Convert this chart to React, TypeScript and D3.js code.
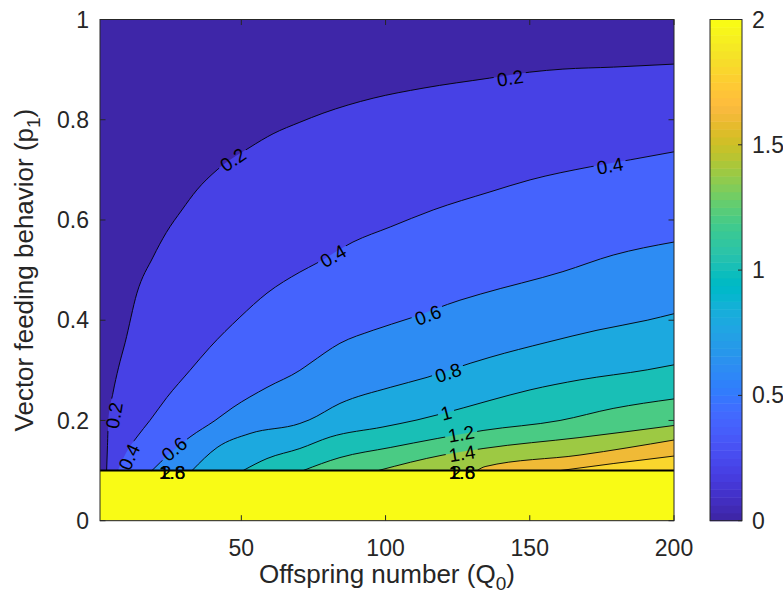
import React from "react";
import * as d3 from "d3";

const W = 783;
const H = 604;

// axis ticks
const q0Ticks = [50, 100, 150, 200];
const p1Ticks = [0, 0.2, 0.4, 0.6, 0.8, 1];
const cbTicks = [0, 0.5, 1, 1.5, 2];

// contour levels (value >= level lies below/right of the line)
const levels = [0.2, 0.4, 0.6, 0.8, 1.0, 1.2, 1.4, 1.6, 1.8];

// contour lines: [Q0, p1]
const c02 = [[3.3, 0.1], [3.6, 0.15], [3.9, 0.2], [5.5, 0.255], [7.4, 0.305], [9.7, 0.355], [13.8, 0.454], [19.4, 0.526], [24, 0.575], [29.4, 0.62], [34.6, 0.66], [41.6, 0.7], [53, 0.745], [61, 0.772], [70.3, 0.795], [78.3, 0.813], [95.7, 0.843], [113, 0.863], [136, 0.883], [150, 0.895], [161.5, 0.901], [179, 0.905], [200, 0.911]];
const c04 = [[7.2, 0.1], [10, 0.135], [13.8, 0.167], [18.3, 0.2], [24.2, 0.246], [32.2, 0.3], [39.1, 0.346], [49.5, 0.406], [58.9, 0.454], [70.3, 0.496], [76.2, 0.514], [88.7, 0.556], [101.6, 0.586], [116.5, 0.62], [136.2, 0.656], [150.1, 0.68], [170.9, 0.706], [184.8, 0.72], [200, 0.736]];
const c06 = [[19, 0.1], [25, 0.133], [32.2, 0.167], [40.9, 0.2], [47.1, 0.226], [58.9, 0.266], [70.3, 0.3], [73.8, 0.314], [84.2, 0.354], [95.7, 0.38], [108.5, 0.404], [125.8, 0.44], [132.8, 0.452], [161.5, 0.497], [178.9, 0.53], [200, 0.556]];
const c08 = [[32.9, 0.1], [41.6, 0.146], [53, 0.174], [70.3, 0.194], [73.5, 0.201], [84.2, 0.234], [101.6, 0.266], [114.4, 0.286], [129.3, 0.314], [136.2, 0.326], [156, 0.356], [173.3, 0.38], [190.7, 0.4], [200, 0.413]];
const c10 = [[50.6, 0.1], [58.9, 0.124], [70.3, 0.144], [80.8, 0.167], [99.1, 0.187], [110.9, 0.201], [126.9, 0.225], [136.2, 0.24], [150.1, 0.261], [167.4, 0.281], [190.7, 0.301], [200, 0.311]];
const c12 = [[71.4, 0.1], [84.2, 0.126], [101.6, 0.146], [117.9, 0.164], [133.8, 0.18], [160.5, 0.2], [178.9, 0.224], [200, 0.243]];
const c14 = [[97.4, 0.1], [119.9, 0.131], [133.8, 0.144], [167.4, 0.166], [200, 0.19]];
const c16 = [[131.7, 0.1], [134.5, 0.108], [167.4, 0.131], [200, 0.161]];
const c18 = [[160.5, 0.1], [178.9, 0.114], [200, 0.129]];
const contourLines = [c02, c04, c06, c08, c10, c12, c14, c16, c18];

// inline labels: [text, Q0, p1]
const labels: [string, number, number][] = [
  ["0.2", 5.9, 0.21], ["0.2", 47.1, 0.72], ["0.2", 143.2, 0.883],
  ["0.4", 11.1, 0.127], ["0.4", 81.8, 0.528], ["0.4", 177.8, 0.708],
  ["0.6", 26.7, 0.143], ["0.6", 114.7, 0.41],
  ["0.8", 121.7, 0.295],
  ["1", 121, 0.215],
  ["1.2", 126.2, 0.173],
  ["1.4", 126.5, 0.134],
];
// labels piled up on the p1 = 0.1 edge
const pileLabels = ["1.6", "1.8", "2"];
const pileQ0 = [26, 126.5];

// MATLAB parula, 64 entries
const parula = [
  [0.2422, 0.1504, 0.6603], [0.2504, 0.165, 0.7076], [0.2578, 0.1818, 0.7511], [0.2647, 0.1978, 0.7952],
  [0.2706, 0.2147, 0.8364], [0.2751, 0.2342, 0.871], [0.2783, 0.2559, 0.8991], [0.2803, 0.2782, 0.9221],
  [0.2813, 0.3006, 0.9414], [0.281, 0.3228, 0.9579], [0.2795, 0.3447, 0.9717], [0.276, 0.3667, 0.9829],
  [0.2699, 0.3892, 0.9906], [0.2602, 0.4123, 0.9952], [0.244, 0.4358, 0.9988], [0.2206, 0.4603, 0.9973],
  [0.1963, 0.4847, 0.9892], [0.1834, 0.5074, 0.9798], [0.1786, 0.5289, 0.9682], [0.1764, 0.5499, 0.952],
  [0.1687, 0.5703, 0.9359], [0.154, 0.5902, 0.9218], [0.146, 0.6091, 0.9079], [0.138, 0.6276, 0.8973],
  [0.1248, 0.6459, 0.8883], [0.1113, 0.6635, 0.8763], [0.0952, 0.6798, 0.8598], [0.0689, 0.6948, 0.8394],
  [0.0297, 0.7082, 0.8163], [0.0036, 0.7203, 0.7917], [0.0067, 0.7312, 0.766], [0.0433, 0.7411, 0.7394],
  [0.0964, 0.75, 0.712], [0.1408, 0.7584, 0.6842], [0.1717, 0.767, 0.6554], [0.1938, 0.7758, 0.6251],
  [0.2161, 0.7843, 0.5923], [0.247, 0.7918, 0.5567], [0.2906, 0.7973, 0.5188], [0.3406, 0.8008, 0.4789],
  [0.3909, 0.8029, 0.4354], [0.4456, 0.8024, 0.3909], [0.5044, 0.7993, 0.348], [0.5616, 0.7942, 0.3045],
  [0.6174, 0.7876, 0.2612], [0.672, 0.7793, 0.2227], [0.7242, 0.7698, 0.191], [0.7738, 0.7598, 0.1646],
  [0.8203, 0.7498, 0.1535], [0.8634, 0.7406, 0.1596], [0.9035, 0.733, 0.1774], [0.9393, 0.7288, 0.21],
  [0.9728, 0.7298, 0.2394], [0.9956, 0.7434, 0.2371], [0.997, 0.7659, 0.2199], [0.9952, 0.7893, 0.2028],
  [0.9892, 0.8136, 0.1885], [0.9786, 0.8386, 0.1766], [0.9676, 0.8639, 0.1643], [0.961, 0.889, 0.1537],
  [0.9597, 0.9135, 0.1423], [0.9628, 0.9373, 0.1265], [0.9691, 0.9606, 0.1064], [0.9769, 0.9839, 0.0805],
];

const rgb = (c: number[]) => d3.rgb(c[0] * 255, c[1] * 255, c[2] * 255).formatHex();
const levelColor = (v: number) => rgb(parula[Math.min(63, Math.floor((v / 2) * 64 + 1e-9))]);

const FONT = "'Liberation Sans', Arial, Helvetica, sans-serif";
const INK = "#262626";

export default function App() {
  const left = 100, right = 674, top = 19.5, bottom = 520.7;
  const x = d3.scaleLinear().domain([1, 200]).range([left, right]);
  const y = d3.scaleLinear().domain([0, 1]).range([bottom, top]);
  const cb = d3.scaleLinear().domain([0, 2]).range([bottom, top]);
  const cbX0 = 710, cbX1 = 742;

  const line = d3.line<number[]>()
    .x(d => x(d[0]))
    .y(d => y(d[1]))
    .curve(d3.curveMonotoneX);

  // angle of the contour at a label spot
  const labelAngle = (pts: number[][], q: number, p: number) => {
    let best = 0, bd = Infinity;
    for (let i = 0; i < pts.length - 1; i++) {
      const mx = (x(pts[i][0]) + x(pts[i + 1][0])) / 2;
      const my = (y(pts[i][1]) + y(pts[i + 1][1])) / 2;
      const dd = (mx - x(q)) ** 2 + (my - y(p)) ** 2;
      if (dd < bd) { bd = dd; best = i; }
    }
    const a = pts[best], b = pts[best + 1];
    let ang = Math.atan2(y(b[1]) - y(a[1]), x(b[0]) - x(a[0])) * 180 / Math.PI;
    if (ang < -90) ang += 180;
    if (ang > 90) ang -= 180;
    return ang;
  };

  const labFont = 19;
  const labelInfo = labels.map(([t, q, p]) => {
    const li = levels.findIndex(l => Math.abs(l - parseFloat(t)) < 1e-6);
    const ang = labelAngle(contourLines[li], q, p);
    const w = t.replace(".", "").length * 0.556 * labFont + (t.includes(".") ? 0.278 * labFont : 0) + 6;
    return { t, cx: x(q), cy: y(p), ang, w };
  });

  return (
    <svg width={W} height={H} style={{ position: "absolute", left: 0, top: 0, background: "#fff" }}
      fontFamily={FONT}>
      <defs>
        <clipPath id="plotClip">
          <rect x={left} y={top} width={right - left} height={bottom - top} />
        </clipPath>
        <mask id="labelGaps" maskUnits="userSpaceOnUse" x={0} y={0} width={W} height={H}>
          <rect x={0} y={0} width={W} height={H} fill="#fff" />
          {labelInfo.map((l, i) => (
            <rect key={i} x={-l.w / 2} y={-9} width={l.w} height={18} fill="#000"
              transform={`translate(${l.cx},${l.cy}) rotate(${l.ang})`} />
          ))}
        </mask>
      </defs>

      <g clipPath="url(#plotClip)">
        <rect x={left} y={top} width={right - left} height={bottom - top} fill={levelColor(0)} />
        {contourLines.map((pts, i) => (
          <path key={i}
            d={`${line(pts)}L${x(200)},${y(0.1)}Z`}
            fill={levelColor(levels[i])} />
        ))}
        <rect x={left} y={y(0.1)} width={right - left} height={bottom - y(0.1)} fill={levelColor(2)} />
        <g mask="url(#labelGaps)">
          {contourLines.map((pts, i) => (
            <path key={i} d={line(pts) || ""} fill="none" stroke="#000" strokeWidth={0.9}
              strokeLinejoin="round" />
          ))}
        </g>
        <line x1={left} x2={right} y1={y(0.1)} y2={y(0.1)} stroke="#000" strokeWidth={2} />
      </g>

      {labelInfo.map((l, i) => (
        <text key={i} transform={`translate(${l.cx},${l.cy}) rotate(${l.ang})`}
          textAnchor="middle" dy="0.35em" fontSize={labFont} fill="#000">{l.t}</text>
      ))}
      {pileQ0.map((q, j) => pileLabels.map((t, i) => (
        <text key={`${j}-${i}`} x={x(q) + (t === "2" ? -6 : 0)} y={y(0.1) + 2} dy="0.35em"
          textAnchor="middle" fontSize={labFont} fill="#000">{t}</text>
      )))}

      {/* axes box and ticks */}
      <rect x={left} y={top} width={right - left} height={bottom - top} fill="none" stroke={INK} strokeWidth={1} />
      {q0Ticks.map(t => (
        <g key={t}>
          <line x1={x(t)} x2={x(t)} y1={bottom} y2={bottom - 5.5} stroke={INK} />
          <line x1={x(t)} x2={x(t)} y1={top} y2={top + 5.5} stroke={INK} />
          <text x={x(t)} y={556} textAnchor="middle" fontSize={23} fill={INK}>{t}</text>
        </g>
      ))}
      {p1Ticks.map(t => (
        <g key={t}>
          <line x1={left} x2={left + 5.5} y1={y(t)} y2={y(t)} stroke={INK} />
          <line x1={right} x2={right - 5.5} y1={y(t)} y2={y(t)} stroke={INK} />
          <text x={89} y={y(t)} dy="0.35em" textAnchor="end" fontSize={23} fill={INK}>{t}</text>
        </g>
      ))}

      <text x={(left + right) / 2} y={583} textAnchor="middle" fontSize={26} fill={INK}>
        Offspring number (Q<tspan fontSize={19} dy={7}>0</tspan><tspan dy={-7}>)</tspan>
      </text>
      <text transform={`translate(33,${(top + bottom) / 2}) rotate(-90)`} textAnchor="middle" fontSize={26} fill={INK}>
        Vector feeding behavior (p<tspan fontSize={19} dy={7}>1</tspan><tspan dy={-7}>)</tspan>
      </text>

      {/* colorbar */}
      {parula.map((c, i) => (
        <rect key={i} x={cbX0} width={cbX1 - cbX0}
          y={cb((2 * (i + 1)) / 64)} height={cb(0) - cb(2 / 64) + 0.5} fill={rgb(c)} />
      ))}
      <rect x={cbX0} y={top} width={cbX1 - cbX0} height={bottom - top} fill="none" stroke={INK} strokeWidth={1} />
      {cbTicks.map(t => (
        <g key={t}>
          <line x1={cbX1} x2={cbX1 - 4} y1={cb(t)} y2={cb(t)} stroke={INK} />
          <text x={752} y={cb(t)} dy="0.35em" fontSize={23} fill={INK}>{t}</text>
        </g>
      ))}
    </svg>
  );
}
